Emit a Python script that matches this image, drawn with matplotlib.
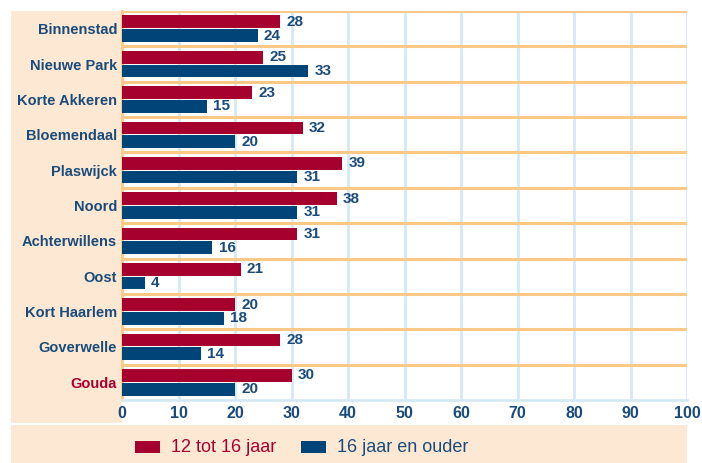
import matplotlib
matplotlib.use("Agg")
import matplotlib.pyplot as plt
from matplotlib.patches import Rectangle
import numpy as np

categories = ["Binnenstad", "Nieuwe Park", "Korte Akkeren", "Bloemendaal", "Plaswijck",
              "Noord", "Achterwillens", "Oost", "Kort Haarlem", "Goverwelle", "Gouda"]
young = [28, 25, 23, 32, 39, 38, 31, 21, 20, 28, 30]
older = [24, 33, 15, 20, 31, 31, 16, 4, 18, 14, 20]
series_names = ["12 tot 16 jaar", "16 jaar en ouder"]
xticks = [0, 10, 20, 30, 40, 50, 60, 70, 80, 90, 100]

RED = "#A6002F"
BLUE = "#004478"
TEXTBLUE = "#1B4B7A"
PEACH = "#FDE9D3"
ORANGE = "#FAC985"
GRID = "#D5E9F4"

plt.rcParams['font.family'] = ['Liberation Sans', 'DejaVu Sans']

W, H = 702, 463
fig = plt.figure(figsize=(W / 100, H / 100), dpi=100)
fig.patch.set_facecolor("white")

def fx(px):
    return px / W

def fy(py):
    return 1 - py / H

# background axes for the peach panels
bg = fig.add_axes([0, 0, 1, 1], zorder=0)
bg.set_xlim(0, W)
bg.set_ylim(H, 0)
bg.axis("off")
bg.add_patch(Rectangle((11, 11), 111, 412, facecolor=PEACH, edgecolor="none"))
bg.add_patch(Rectangle((11, 425), 676, 38, facecolor=PEACH, edgecolor="none"))

ax = fig.add_axes([fx(122), fy(400), fx(687) - fx(122), fy(11) - fy(400)], zorder=1)
ax.set_facecolor("white")

n = len(categories)
y = np.arange(n)
h = 0.36
ax.barh(y - h / 2 - 0.015, young, height=h, color=RED, zorder=3)
ax.barh(y + h / 2 + 0.015, older, height=h, color=BLUE, zorder=3)

for i in range(n):
    ax.annotate(str(young[i]), (young[i], y[i] - h / 2 - 0.015), xytext=(4.5, 0),
                textcoords="offset points", va="center", ha="left",
                color=TEXTBLUE, fontsize=11, fontweight="bold", zorder=4)
    ax.annotate(str(older[i]), (older[i], y[i] + h / 2 + 0.015), xytext=(4.5, 0),
                textcoords="offset points", va="center", ha="left",
                color=TEXTBLUE, fontsize=11, fontweight="bold", zorder=4)

ax.set_xlim(0, 100)
ax.set_ylim(n - 0.5, -0.5)
ax.set_xticks(xticks)
ax.set_xticklabels([str(t) for t in xticks], color=TEXTBLUE, fontsize=11.5, fontweight="bold")
ax.set_yticks(y)
ax.set_yticklabels(categories, fontsize=10.5, fontweight="bold")
for lbl, c in zip(ax.get_yticklabels(), categories):
    lbl.set_color(RED if c == "Gouda" else TEXTBLUE)
    lbl.set_y(lbl.get_position()[1])
ax.tick_params(axis="y", length=0, pad=3.5)
ax.tick_params(axis="x", length=0, pad=4)

for xv in xticks[1:]:
    ax.axvline(xv, color=GRID, lw=2, zorder=1)
for b in np.arange(-0.5, n - 0.5, 1.0):
    ax.axhline(b, color=ORANGE, lw=2.2, zorder=2)

for s in ["top", "right"]:
    ax.spines[s].set_visible(False)
ax.spines["bottom"].set_color(GRID)
ax.spines["bottom"].set_linewidth(2)
ax.spines["left"].set_color(ORANGE)
ax.spines["left"].set_linewidth(2)

# legend
bg.add_patch(Rectangle((135, 441), 25, 12, facecolor=RED, edgecolor="none"))
bg.text(171, 447, series_names[0], color=RED, fontsize=13, va="center", ha="left")
bg.add_patch(Rectangle((301, 441), 25, 12, facecolor=BLUE, edgecolor="none"))
bg.text(337, 447, series_names[1], color=TEXTBLUE, fontsize=13, va="center", ha="left")

fig.savefig("out.png", dpi=100)
